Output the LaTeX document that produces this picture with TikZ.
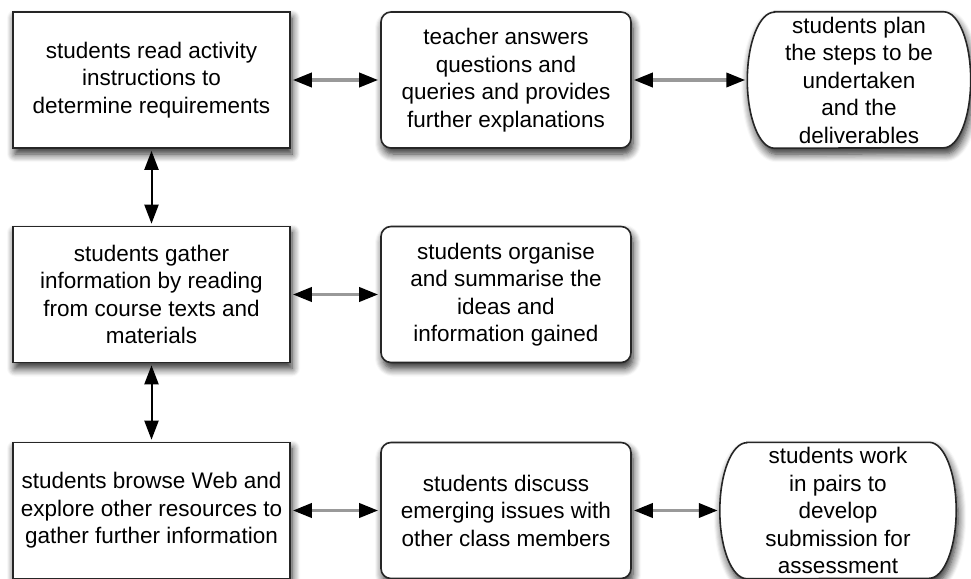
\documentclass[tikz,border=0pt]{standalone}
\usepackage{fontspec}
\setmainfont{Liberation Sans}
\usetikzlibrary{arrows.meta,shadows.blur}

\begin{document}
\begin{tikzpicture}[x=1pt, y=1pt,
  every node/.style={font=\fontsize{22.5}{27.5}\selectfont, align=center},
  boxshadow/.style={blur shadow={shadow xshift=2pt, shadow yshift=-6pt,
    shadow blur radius=8pt, shadow blur steps=8, shadow opacity=85}},
  task/.style={draw=black!85, line width=1.6pt, fill=white, inner sep=0pt,
    minimum width=277pt, minimum height=136pt, boxshadow},
  reply/.style={task, rounded corners=10pt, minimum width=250pt},
  goal/.style={inner sep=0pt, minimum width=223pt, minimum height=136pt},
  outline/.style={draw=black!85, line width=1.6pt, fill=white, boxshadow},
  link/.style={{Triangle[length=19pt 0, width=14pt 0, color=black]}-{Triangle[length=19pt 0, width=14pt 0, color=black]},
    line width=3.6pt, draw=black!40, shorten <=2pt, shorten >=2pt},
  vlink/.style={link, draw=black, line width=2pt}]
  \useasboundingbox (0,0) rectangle (971,-578);

  % top row
  \node[task] (read) at (151.5,-80) {students read activity\\instructions to\\determine requirements};
  \node[reply] (answer) at (506,-80) {teacher answers\\questions and\\queries and provides\\further explanations};
  \node[goal] (plan) at (859,-80) {};

  % middle row
  \node[task] (gather) at (151.5,-294.5) {students gather\\information by reading\\from course texts and\\materials};
  \node[reply] (organise) at (506,-294.5) {students organise\\and summarise the\\ideas and\\information gained};

  % bottom row
  \node[task] (browse) at (151.5,-510.5) {students browse Web and\\explore other resources to\\gather further information};
  \node[reply] (discuss) at (506,-510.5) {students discuss\\emerging issues with\\other class members};
  \node[goal, minimum width=236pt] (pairs) at (838,-510.5) {};

  % end boxes with elliptical sides
  \foreach \n in {plan,pairs} {
    \draw[outline] ([xshift=27pt]\n.north west) -- ([xshift=-27pt]\n.north east)
      arc[start angle=90, end angle=-90, x radius=27pt, y radius=68pt]
      -- ([xshift=27pt]\n.south west)
      arc[start angle=270, end angle=90, x radius=27pt, y radius=68pt] -- cycle;
  }
  \node at (plan) {students plan\\the steps to be\\undertaken\\and the\\deliverables};
  \node at (pairs) {students work\\in pairs to\\develop\\submission for\\assessment};

  % connectors
  \draw[link] (read) -- (answer);
  \draw[link] (answer) -- (plan);
  \draw[link] (gather) -- (organise);
  \draw[link] (browse) -- (discuss);
  \draw[link] (discuss) -- (pairs);
  \draw[vlink] (read) -- (gather);
  \draw[vlink] (gather) -- (browse);
\end{tikzpicture}
\end{document}
